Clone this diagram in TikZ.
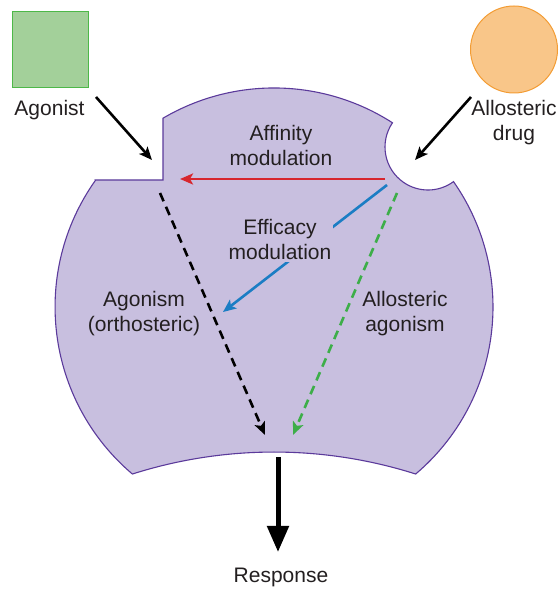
\documentclass[tikz,border=0pt]{standalone}
\usepackage{fontspec}
\setmainfont{Liberation Sans}
\usetikzlibrary{arrows.meta}
\definecolor{recfill}{HTML}{C8BFDF}
\definecolor{recline}{HTML}{5B3A9B}
\definecolor{sqfill}{HTML}{A3D09A}
\definecolor{sqline}{HTML}{4DB848}
\definecolor{cfill}{HTML}{F9C689}
\definecolor{cline}{HTML}{F39C33}
\definecolor{redarr}{HTML}{D7262E}
\definecolor{bluearr}{HTML}{1B7DC4}
\definecolor{greenarr}{HTML}{3DAE49}
\definecolor{txt}{HTML}{231F20}
\begin{document}
\begin{tikzpicture}[x=1pt,y=1pt,
  lbl/.style={text=txt, font=\fontsize{21}{25}\selectfont, align=center, inner sep=0pt},
  arr/.style={line width=2.6pt, -{Stealth[length=13pt,width=11pt,inset=3pt]}},
  dsh/.style={dash pattern=on 9pt off 6pt},
  receptor/.style={fill=recfill, draw=recline, line width=1.1pt}]
\useasboundingbox (0,0) rectangle (559,590);
% receptor body
\path[receptor] (95.58,410) -- (163,410) -- (163,471.8)
  arc[start angle=120.46, end angle=57.25, radius=219]
  arc[start angle=145.7, end angle=306.4, radius=43]
  arc[start angle=34.94, end angle=-49.69, radius=219]
  arc[start angle=72.35, end angle=107.65, radius=467.2]
  arc[start angle=229.69, end angle=144.56, radius=219] -- cycle;
% ligands
\node[draw=sqline, fill=sqfill, line width=1pt, minimum size=76pt, inner sep=0pt] (sq) at (50,540) {};
\node[draw=cline, fill=cfill, line width=1pt, circle, minimum size=87pt, inner sep=0pt] (ci) at (514,540.5) {};
\node[lbl] (agonist) at (49.5,480) {Agonist};
\node[lbl] (allo) at (514,467) {Allosteric\\drug};
% coordinates
\coordinate (agS) at (96,493);
\coordinate (agE) at (152,430);
\coordinate (alS) at (471,493);
\coordinate (alE) at (415,430);
\coordinate (redS) at (385,411);
\coordinate (redE) at (180,411);
\coordinate (bluS) at (387,405);
\coordinate (bluE) at (223,278);
\coordinate (bdS) at (160,397);
\coordinate (bdE) at (265,155);
\coordinate (gdS) at (397,397);
\coordinate (gdE) at (293,155);
\coordinate (rsS) at (278,133);
% arrows
\draw[arr] (agS) -- (agE);
\draw[arr] (alS) -- (alE);
\draw[arr, redarr] (redS) -- (redE);
\draw[arr, bluearr] (bluS) -- (bluE);
\draw[arr, dsh] (bdS) -- (bdE);
\draw[arr, dsh, greenarr] (gdS) -- (gdE);
% labels inside
\node[lbl] (aff) at (281,444.5) {Affinity\\modulation};
\node[lbl, fill=recfill, inner sep=2pt] (eff) at (280,350.5) {Efficacy\\modulation};
\node[lbl] (ortho) at (144,276.5) {Agonism\\(orthosteric)};
\node[lbl] (alag) at (405,276) {Allosteric\\agonism};
\node[lbl] (resp) at (281,13) {Response};
\coordinate (rsE) at (278,38);
\draw[line width=5pt, -{Triangle[length=26pt,width=21pt]}] (rsS) -- (rsE);
\end{tikzpicture}
\end{document}
